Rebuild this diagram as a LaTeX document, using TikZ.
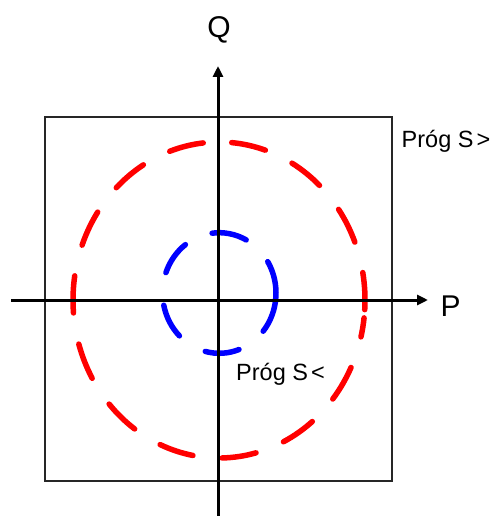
\documentclass[tikz,border=0pt]{standalone}
\usepackage{fontspec}
\setmainfont{Liberation Sans}
\usetikzlibrary{arrows.meta}
\begin{document}
\begin{tikzpicture}[x=1pt,y=-1pt,
  axis/.style={line width=3pt,-{Triangle[length=11pt,width=10pt]}},
  frame/.style={draw=black!85,line width=1.3pt,minimum width=347pt,minimum height=364pt,inner sep=0pt},
  bigring/.style={draw=red,line width=5.5pt,line cap=round},
  smallring/.style={draw=blue,line width=5.5pt,line cap=round},
  axlabel/.style={font=\fontsize{30}{36}\selectfont,inner sep=0pt},
  thrlabel/.style={font=\fontsize{23.5}{28}\selectfont,inner sep=0pt,anchor=base west}]
\useasboundingbox (0,0) rectangle (495,516);
\node[frame] (box) at (218.5,299) {};
% red threshold ring (S>)
\coordinate (rc) at (219,300);
\foreach \a/\b in {-85/-71.5,-60/-46.5,-35/-21.5,-10/3.5,6.5/13.5,25.3/38.8,50.3/63.8,75.3/88.8,100.3/113.8,125.3/138.8,150.3/163.8,175.3/188.8,200.3/213.8,225.3/238.8,250.3/263.8}
  \draw[bigring] (rc) ++(\a:146 and 158) arc[start angle=\a, end angle=\b, x radius=146, y radius=158];
% blue threshold ring (S<)
\coordinate (bc) at (219.3,293);
\foreach \a/\b in {-31.3/39.3,69.7/104.3,134.7/168.3,199.7/233.3,262.7/298.3}
  \draw[smallring] (bc) ++(\a:56.7 and 60.3) arc[start angle=\a, end angle=\b, x radius=56.7, y radius=60.3];
% axes
\coordinate (xs) at (11,300);
\coordinate (xe) at (428,300);
\coordinate (ys) at (218,516);
\coordinate (ye) at (218,66);
\draw[axis] (xs) -- (xe);
\draw[axis] (ys) -- (ye);
% labels
\node[axlabel,anchor=base] (q) at (219,38) {Q};
\node[axlabel,anchor=base west] (p) at (440.5,316.5) {P};
\node[thrlabel] (smax) at (401.5,147.5) {Próg S\kern3pt>};
\node[thrlabel] (smin) at (236,380) {Próg S\kern3pt<};
\end{tikzpicture}
\end{document}
